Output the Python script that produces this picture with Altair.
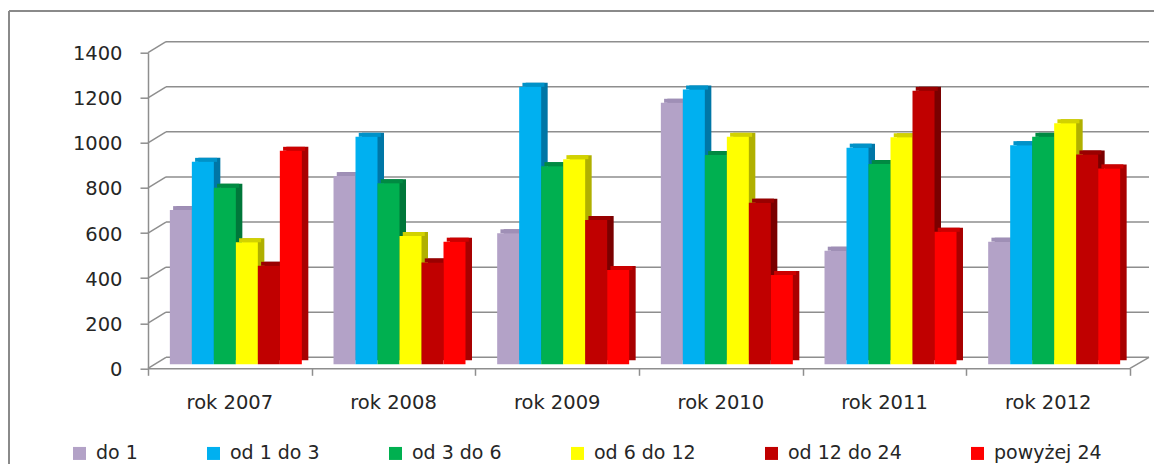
import altair as alt
import pandas as pd

# ---- data ----
years = ["rok 2007", "rok 2008", "rok 2009", "rok 2010", "rok 2011", "rok 2012"]
series = ["do 1", "od 1 do 3", "od 3 do 6", "od 6 do 12", "od 12 do 24", "powyżej 24"]
do_1 = [684, 835, 581, 1160, 504, 544]
od_1_do_3 = [898, 1009, 1231, 1219, 961, 972]
od_3_do_6 = [783, 803, 879, 928, 888, 1009]
od_6_do_12 = [541, 569, 910, 1009, 1007, 1069]
od_12_do_24 = [437, 452, 640, 717, 1213, 931]
powyzej_24 = [947, 544, 418, 396, 588, 869]
y_ticks = [0, 200, 400, 600, 800, 1000, 1200, 1400]

# ---- styles ----
front_colors = ["#b3a2c7", "#00b0f0", "#00b050", "#ffff00", "#c00000", "#ff0000"]
side_colors = ["#8c7ca3", "#0076a6", "#00773a", "#b0b000", "#7a0000", "#a80000"]
top_colors = ["#9f8fb6", "#0092c8", "#008a42", "#d2d200", "#990000", "#cc0000"]

values = [do_1, od_1_do_3, od_3_do_6, od_6_do_12, od_12_do_24, powyzej_24]
rows = []
for j, (s, vals) in enumerate(zip(series, values)):
    for i, (yr, v) in enumerate(zip(years, vals)):
        rows.append({"year": yr, "yi": i, "series": s, "sj": j, "value": v,
                     "side": side_colors[j], "top": top_colors[j]})
df = pd.DataFrame(rows)
cats = pd.DataFrame({"year": years, "yi": list(range(len(years)))})
ticks = pd.DataFrame({"tick": y_ticks})

W = 982
H = 315.6
BW = 0.1344   # bar width in category units
SH = 0.0367   # depth shift of the bar plane
GRID = "#8e8e8e"
TXT = "#262626"
FONT = "DejaVu Sans"

yscale = alt.Scale(domain=[0, 1400], nice=False, zero=True)
xscale = alt.Scale(domain=[0, 6], nice=False, zero=False)
yaxis = alt.Axis(values=y_ticks, format="d", title=None, grid=False, domainColor=GRID,
                 domainWidth=1.5, tickColor=GRID, tickWidth=1.5, tickSize=8, labelPadding=18,
                 labelFont=FONT, labelFontSize=19.5, labelColor=TXT, labelBaseline="middle",
                 labelOffset=1)
xaxis = alt.Axis(values=list(range(7)), title=None, grid=False, labels=False,
                 domainColor=GRID, domainWidth=1.5, tickColor=GRID, tickWidth=1.5, tickSize=7)

bars = alt.Chart(df).transform_calculate(
    x0=f"datum.yi + 0.5 + (datum.sj - 3) * {BW} + {SH}",
    x1=f"datum.yi + 0.5 + (datum.sj - 2) * {BW} + {SH}",
)

side = bars.mark_bar(xOffset=6.5, x2Offset=6.5, yOffset=-8, y2Offset=-8).encode(
    x=alt.X("x0:Q", scale=xscale, axis=xaxis),
    x2="x1:Q",
    y=alt.Y("value:Q", scale=yscale, axis=yaxis),
    y2=alt.datum(0),
    fill=alt.Fill("side:N", scale=None),
)
top = bars.mark_bar(xOffset=3.25, x2Offset=3.25, yOffset=-8, y2Offset=-4).encode(
    x=alt.X("x0:Q", scale=xscale, axis=xaxis),
    x2="x1:Q",
    y=alt.Y("value:Q", scale=yscale, axis=yaxis),
    y2="value:Q",
    fill=alt.Fill("top:N", scale=None),
)
front = bars.mark_bar(yOffset=-4, y2Offset=-4).encode(
    x=alt.X("x0:Q", scale=xscale, axis=xaxis),
    x2="x1:Q",
    y=alt.Y("value:Q", scale=yscale, axis=yaxis),
    y2=alt.datum(0),
    color=alt.Color("series:N", sort=series,
                    scale=alt.Scale(domain=series, range=front_colors),
                    legend=alt.Legend(title=None, orient="none", direction="horizontal",
                                      legendX=-78, legendY=391, symbolType="square",
                                      symbolSize=169, symbolStrokeWidth=0, labelOffset=7,
                                      columnPadding=66, labelFont=FONT, labelFontSize=19,
                                      labelColor=TXT, labelLimit=400, padding=0)),
)

back_grid = alt.Chart(ticks).mark_rule(color=GRID, strokeWidth=1.5, yOffset=-11).encode(
    x=alt.value(18), x2=alt.value(1001),
    y=alt.Y("tick:Q", scale=yscale, axis=yaxis),
)
side_wall = alt.Chart(ticks).mark_rule(color=GRID, strokeWidth=1.5, y2Offset=-11).encode(
    x=alt.value(0), x2=alt.value(18),
    y=alt.Y("tick:Q", scale=yscale, axis=yaxis),
    y2="tick:Q",
)
floor_right = alt.Chart(ticks).transform_filter("datum.tick == 0").mark_rule(
    color=GRID, strokeWidth=1.5, y2Offset=-11).encode(
    x=alt.value(W), x2=alt.value(1001),
    y=alt.Y("tick:Q", scale=yscale, axis=yaxis),
    y2="tick:Q",
)

labels = alt.Chart(cats).transform_calculate(xc="datum.yi + 0.5").mark_text(
    font=FONT, fontSize=19.5, color=TXT, baseline="middle", align="center").encode(
    x=alt.X("xc:Q", scale=xscale, axis=xaxis),
    y=alt.value(350.3),
    text="year:N",
)

frame_top = alt.Chart(cats).transform_filter("datum.yi == 0").mark_rule(
    color="#8a8a8a", strokeWidth=2).encode(
    x=alt.value(-139), x2=alt.value(1006), y=alt.value(-41.7))
frame_left = alt.Chart(cats).transform_filter("datum.yi == 0").mark_rule(
    color="#8a8a8a", strokeWidth=2).encode(
    x=alt.value(-139), y=alt.value(-41.7), y2=alt.value(420))

chart = alt.layer(
    frame_top, frame_left, back_grid, side_wall, floor_right, side, top, front, labels
).properties(
    width=W, height=H,
    autosize=alt.AutoSizeParams(type="none"),
    padding={"left": 140, "top": 44.7, "right": 24, "bottom": 96},
).configure_view(stroke=None)

chart.save("out.html", embed_options={"renderer": "svg", "actions": False})
